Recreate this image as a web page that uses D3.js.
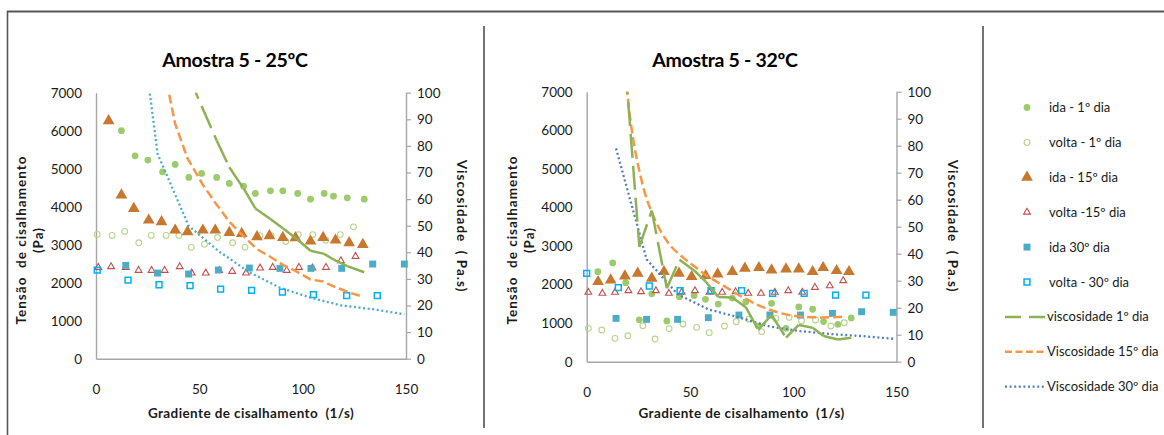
<!DOCTYPE html>
<html>
<head>
<meta charset="utf-8">
<script src="https://cdn.jsdelivr.net/npm/d3@7"></script>
<style>
  html, body { margin: 0; padding: 0; background: #fff; }
  svg { display: block; font-family: Lato, "Open Sans", sans-serif; }
  text { white-space: pre; }
</style>
</head>
<body>
<svg id="chart" width="1164" height="435"></svg>
<script>
// ---- Tick values and labels ----
const stressTicks = [0, 1000, 2000, 3000, 4000, 5000, 6000, 7000];
const viscTicks = [0, 10, 20, 30, 40, 50, 60, 70, 80, 90, 100];
const shearTicks = [0, 50, 100, 150];
const panelTitles = ["Amostra 5 - 25ºC", "Amostra 5 - 32ºC"];
const legendLabels = [
  "ida - 1º dia", "volta - 1º dia", "ida - 15º dia", "volta -15º dia",
  "ida 30º dia", "volta - 30º dia", "viscosidade 1º dia",
  "Viscosidade 15º dia", "Viscosidade 30º dia"
];

// ---- 25 ºC : [shear rate (1/s), shear stress (Pa)] ----
const ida1_25 = [[12.3,6000],[18.9,5340],[25.1,5226],[32.2,4918],[38.3,5111],[44.9,4769],[51.1,4875],[58.4,4769],[64.5,4611],[71.4,4541],[77.1,4348],[84.4,4418],[90.4,4418],[97.6,4348],[103.8,4198],[110.4,4348],[114.9,4277],[121.6,4233],[129.8,4198]];
const volta1_25 = [[0.6,3270],[7.8,3245],[13.9,3350],[20.7,3050],[26.7,3245],[33.9,3245],[40.1,3245],[46.1,2930],[52.5,3015],[58.8,3190],[66.1,3050],[72.1,2930],[79.4,3240],[84.7,3240],[91.8,3085],[97.9,3267],[104.9,3267],[111.2,3120],[118.2,3267],[124.6,3470]];
const ida15_25 = [[6.1,6262],[12.3,4304],[18.3,3952],[25.5,3645],[31.7,3601],[38.3,3381],[44.3,3337],[51.7,3381],[57.7,3381],[64.5,3320],[70.5,3294],[77.9,3206],[83.9,3232],[90.4,3188],[96.5,3180],[103.8,3092],[109.9,3188],[115.9,3118],[122.5,3048],[129.1,3004]];
const volta15_25 = [[1.1,2403],[7.3,2421],[14.4,2403],[20.6,2324],[26.9,2324],[33.2,2324],[40.5,2421],[46.3,2254],[53.1,2254],[59.6,2320],[65.9,2298],[72.6,2254],[79.4,2386],[85.5,2403],[92.3,2324],[98.2,2403],[104.7,2386],[111.3,2403],[118.5,2579],[125.6,2693]];
const ida30_25 = [[14.4,2456],[29.8,2254],[44.8,2228],[59.2,2333],[74.2,2386],[89.0,2377],[104.0,2377],[118.9,2377],[133.9,2491],[149.2,2491]];
const volta30_25 = [[0.6,2333],[15.5,2070],[30.5,1947],[45.5,1921],[60.3,1833],[75.3,1798],[90.2,1754],[105.2,1684],[121.3,1658],[136.1,1658]];
// viscosity (Pa.s) against shear rate
const visc1_25 = [[44.9,106],[51.1,95],[58.4,82],[64.5,72],[71.4,64],[77.1,56.5],[84.4,52.5],[90.4,49],[97.6,44.7],[103.8,40.6],[110.4,39.4],[114.9,37.3],[121.6,34.8],[129.8,32.5]];
const visc15_25 = [[31.7,113.6],[38.3,88.3],[44.3,75.3],[51.7,65.4],[57.7,58.6],[64.5,51.5],[70.5,46.7],[77.9,41.2],[83.9,38.5],[90.4,35.3],[96.5,33.0],[103.8,29.8],[109.9,29.0],[115.9,26.9],[122.5,24.9],[129.1,23.3]];
const visc30_25 = [[14.4,170],[29.8,77],[44.8,50],[59.2,40.5],[74.2,32.5],[89.0,26.7],[104.0,22.9],[118.9,20.0],[133.9,18.6],[149.2,16.7]];

// ---- 32 ºC ----
const ida1_32 = [[5.4,2333],[12.6,2560],[18.9,2050],[25.5,1085],[31.5,1760],[38.8,1055],[44.9,1685],[52.0,1715],[57.5,1616],[63.7,1495],[70.5,1650],[77.0,1550],[83.1,930],[89.5,1515],[96.5,864],[102.7,1420],[109.4,1360],[114.7,1040],[121.6,970],[128.1,1135]];
const volta1_32 = [[0.8,864],[7.3,821],[13.7,605],[19.9,674],[27.2,933],[33.1,588],[39.9,856],[46.6,977],[53.2,890],[59.3,752],[66.7,925],[72.4,1037],[78.5,1100],[84.7,778],[91.6,1123],[98.0,1150],[104.0,1063],[110.8,1080],[118.2,925],[124.7,1011]];
const ida15_32 = [[5.5,2074],[11.6,2117],[18.5,2221],[24.7,2290],[31.5,2160],[37.4,2333],[44.7,2290],[50.8,2204],[57.6,2230],[63.4,2273],[70.5,2333],[76.6,2420],[83.4,2437],[89.5,2377],[96.5,2402],[102.7,2402],[109.4,2333],[114.5,2437],[121.0,2359],[127.0,2333]];
const volta15_32 = [[0.8,1798],[7.6,1772],[13.7,1798],[20.2,1841],[26.3,1815],[33.5,1841],[39.8,1772],[46.0,1798],[52.4,1841],[59.5,1798],[65.6,1798],[72.1,1815],[78.2,1772],[84.4,1772],[91.1,1798],[97.6,1841],[104.4,1798],[110.5,1927],[117.7,1970],[124.2,2100]];
const ida30_32 = [[14.2,1123],[29.0,1098],[44.0,1098],[58.9,1141],[73.7,1210],[88.7,1210],[103.5,1210],[119.0,1253],[133.1,1296],[148.4,1279]];
const volta30_32 = [[0,2290],[15.3,1919],[30.3,1962],[45.2,1841],[60.2,1841],[75.0,1841],[90.0,1772],[105.3,1772],[120.5,1728],[135.2,1728]];
const visc1_32 = [[18.9,108],[25.5,42.5],[31.5,56],[38.8,27.2],[44.9,37.8],[52.0,33.8],[57.5,29.8],[63.7,24.0],[70.5,23.8],[77.0,20.2],[83.1,11.8],[89.5,17.3],[96.5,8.9],[102.7,13.6],[109.4,12.6],[114.7,9.5],[121.6,8.2],[128.1,8.9]];
const visc15_32 = [[18.5,107],[21.8,86],[26.6,67],[33.1,52.5],[39.5,44],[46,39],[52.4,35.2],[58.9,31.5],[67,27.8],[75,24.1],[84.7,20.4],[94.4,17.9],[104,16.7],[113.7,16.4],[124.2,16.7]];
const visc30_32 = [[14.2,79],[29.0,37.9],[44.0,25],[58.9,19.4],[73.7,16.4],[88.7,13.0],[103.5,11.3],[119.0,10.2],[133.1,9.5],[148.4,8.5]];

// ---- styles ----
const C = {
  ida1: "#9BCB6B", volta1: "#B9D48C", ida15: "#C8772F", volta15: "#C0504D",
  ida30: "#4BACC6", volta30: "#00B0F0", visc1: "#8DB255", visc15: "#F79646",
  visc30a: "#4BACC6", visc30b: "#4F81BD", axis: "#A6A6A6", text: "#1a1a1a"
};

const markerStyles = {
  ida1:    { type: d3.symbolCircle,   size: 36, fill: C.ida1,  stroke: "none", sw: 0 },
  volta1:  { type: d3.symbolCircle,   size: 26, fill: "none",  stroke: C.volta1, sw: 1.1 },
  ida15:   { type: d3.symbolTriangle, size: 60, fill: C.ida15, stroke: "none", sw: 0 },
  volta15: { type: d3.symbolTriangle, size: 20, fill: "none",  stroke: C.volta15, sw: 1.1 },
  ida30:   { type: d3.symbolSquare,   size: 48, fill: C.ida30, stroke: "none", sw: 0 },
  volta30: { type: d3.symbolSquare,   size: 34, fill: "none",  stroke: C.volta30, sw: 1.5 }
};

const panels = [
  { title: panelTitles[0], left: 96, right: 406, top: 92.7, bottom: 358.7, titleX: 235,
    leftTitleX: 21, rightTitleX: 462, markers: { ida1: ida1_25, volta1: volta1_25, ida15: ida15_25, volta15: volta15_25, ida30: ida30_25, volta30: volta30_25 },
    visc1: visc1_25, visc15: visc15_25, visc30: visc30_25, visc30Color: C.visc30a, smooth15: false },
  { title: panelTitles[1], left: 586.7, right: 896.5, top: 91.7, bottom: 361.7, titleX: 725,
    leftTitleX: 512, rightTitleX: 953, markers: { ida1: ida1_32, volta1: volta1_32, ida15: ida15_32, volta15: volta15_32, ida30: ida30_32, volta30: volta30_32 },
    visc1: visc1_32, visc15: visc15_32, visc30: visc30_32, visc30Color: C.visc30b, smooth15: true }
];

const svg = d3.select("#chart");

// outer frame and panel separators
svg.append("line").attr("x1", 7).attr("x2", 1164).attr("y1", 11.5).attr("y2", 11.5)
  .attr("stroke", "#555").attr("stroke-width", 2);
svg.append("line").attr("x1", 7.5).attr("x2", 7.5).attr("y1", 11).attr("y2", 435)
  .attr("stroke", "#555").attr("stroke-width", 1.6);
[484, 983].forEach(x => {
  svg.append("line").attr("x1", x).attr("x2", x).attr("y1", 26).attr("y2", 428)
    .attr("stroke", "#444").attr("stroke-width", 1.5);
});

const defs = svg.append("defs");

panels.forEach((p, pi) => {
  const x = d3.scaleLinear().domain([0, 150]).range([p.left, p.right]);
  const yL = d3.scaleLinear().domain([0, 7000]).range([p.bottom, p.top]);
  const yR = d3.scaleLinear().domain([0, 100]).range([p.bottom, p.top]);
  const g = svg.append("g");

  defs.append("clipPath").attr("id", "clip" + pi).append("rect")
    .attr("x", p.left).attr("y", p.top).attr("width", p.right - p.left).attr("height", p.bottom - p.top);

  // axes
  const plain = d3.format("d");
  const axL = g.append("g").attr("transform", `translate(${p.left},0)`)
    .call(d3.axisLeft(yL).tickValues(stressTicks).tickFormat(plain).tickSize(0).tickSizeOuter(0).tickPadding(14));
  const axR = g.append("g").attr("transform", `translate(${p.right},0)`)
    .call(d3.axisRight(yR).tickValues(viscTicks).tickFormat(plain).tickSize(5).tickSizeOuter(0).tickPadding(6));
  const axB = g.append("g").attr("transform", `translate(0,${p.bottom})`)
    .call(d3.axisBottom(x).tickValues(shearTicks).tickFormat(plain).tickSize(0).tickSizeOuter(0).tickPadding(26));
  [axL, axR, axB].forEach(a => {
    a.select(".domain").attr("stroke", C.axis).attr("stroke-width", 1.4);
    a.selectAll(".tick line").attr("stroke", C.axis).attr("stroke-width", 1.2);
    a.selectAll(".tick text").attr("fill", C.text).style("font-size", "13.5px")
      .style("font-family", "Lato, 'Open Sans', sans-serif");
  });

  // titles
  g.append("text").attr("x", p.titleX).attr("y", 67).attr("text-anchor", "middle")
    .attr("fill", "#000").style("font-size", "19.5px").style("font-weight", "bold")
    .style("letter-spacing", "-0.3px").text(p.title);
  g.append("text").attr("x", (p.left + p.right) / 2).attr("y", 418).attr("text-anchor", "middle")
    .attr("fill", C.text).style("font-size", "13.5px").style("font-weight", "bold")
    .style("letter-spacing", "0.4px")
    .text("Gradiente de cisalhamento  (1/s)");
  const lt = g.append("text").attr("transform", `translate(${p.leftTitleX},240) rotate(-90)`)
    .attr("text-anchor", "middle").attr("fill", C.text)
    .style("font-size", "13.5px").style("font-weight", "bold").style("letter-spacing", "1px");
  lt.append("tspan").attr("x", 0).attr("dy", "0.35em").text("Tensão  de cisalhamento");
  lt.append("tspan").attr("x", 0).attr("dy", "1.3em").text("(Pa)");
  g.append("text").attr("transform", `translate(${p.rightTitleX},226) rotate(90)`)
    .attr("text-anchor", "middle").attr("dy", "0.35em").attr("fill", C.text)
    .style("font-size", "13.5px").style("font-weight", "bold").style("letter-spacing", "1px")
    .text("Viscosidade  ( Pa.s)");

  // markers
  Object.keys(markerStyles).forEach(k => {
    const st = markerStyles[k];
    const sym = d3.symbol().type(st.type).size(st.size);
    g.append("g").selectAll("path").data(p.markers[k]).join("path")
      .attr("transform", d => `translate(${x(d[0])},${yL(d[1])})`)
      .attr("d", sym())
      .attr("fill", st.fill).attr("stroke", st.stroke).attr("stroke-width", st.sw);
  });

  const lines = g.append("g").attr("clip-path", `url(#clip${pi})`);

  // 30th-day viscosity: dotted
  lines.append("path").datum(p.visc30)
    .attr("d", d3.line().x(d => x(d[0])).y(d => yR(d[1])))
    .attr("fill", "none").attr("stroke", p.visc30Color).attr("stroke-width", 2.3)
    .attr("stroke-dasharray", "2,2.6");

  // 15th-day viscosity: short dash
  lines.append("path").datum(p.visc15)
    .attr("d", d3.line().curve(p.smooth15 ? d3.curveMonotoneX : d3.curveLinear)
      .x(d => x(d[0])).y(d => yR(d[1])))
    .attr("fill", "none").attr("stroke", C.visc15).attr("stroke-width", 2.5)
    .attr("stroke-dasharray", "9,4");

  // 1st-day viscosity: long dash restarting on every segment
  const segs = d3.pairs(p.visc1);
  lines.append("g").selectAll("path").data(segs).join("path")
    .attr("d", s => d3.line().x(d => x(d[0])).y(d => yR(d[1]))(s))
    .attr("fill", "none").attr("stroke", C.visc1).attr("stroke-width", 2.5)
    .attr("stroke-dasharray", "24,8");
});

// legend
const legendY = d3.range(legendLabels.length).map(i => 107.5 + i * 34.9);
const lg = svg.append("g");
const markerKeys = ["ida1", "volta1", "ida15", "volta15", "ida30", "volta30"];
markerKeys.forEach((k, i) => {
  const st = markerStyles[k];
  lg.append("path").attr("transform", `translate(1027,${legendY[i]})`)
    .attr("d", d3.symbol().type(st.type).size(st.size)())
    .attr("fill", st.fill).attr("stroke", st.stroke).attr("stroke-width", st.sw);
});
const lineStyles = [
  { color: C.visc1, dash: "16,8", w: 2.5 },
  { color: C.visc15, dash: "7,3.5", w: 2.5 },
  { color: C.visc30b, dash: "2,2.6", w: 2.3 }
];
lineStyles.forEach((s, j) => {
  const yy = legendY[6 + j];
  lg.append("line").attr("x1", 1005).attr("x2", 1045).attr("y1", yy).attr("y2", yy)
    .attr("stroke", s.color).attr("stroke-width", s.w).attr("stroke-dasharray", s.dash);
});
lg.selectAll("text.lab").data(legendLabels).join("text").attr("class", "lab")
  .attr("x", (d, i) => i < 6 ? 1049 : 1047).attr("y", (d, i) => legendY[i]).attr("dy", "0.35em")
  .attr("fill", C.text).style("font-size", "13px").text(d => d);
</script>
</body>
</html>
